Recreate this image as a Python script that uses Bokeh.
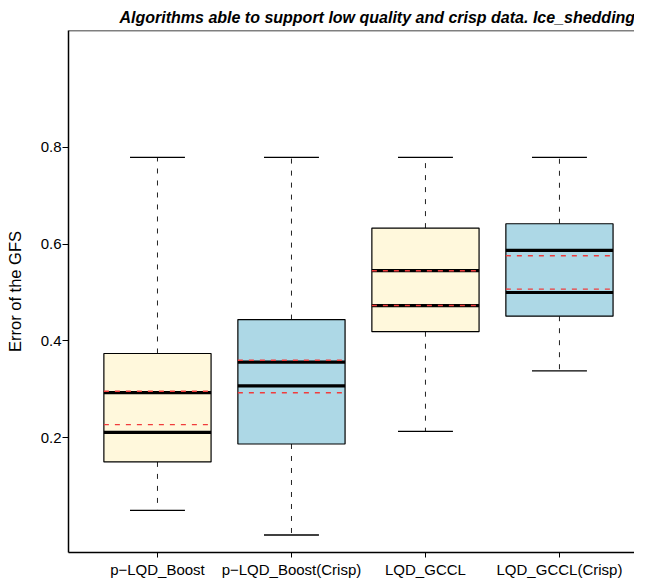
from bokeh.plotting import figure
from bokeh.models import Range1d, FixedTicker, Span, ColumnDataSource
from bokeh.embed import file_html
from bokeh.resources import INLINE

categories = ["p\u2212LQD_Boost", "p\u2212LQD_Boost(Crisp)", "LQD_GCCL", "LQD_GCCL(Crisp)"]
fill_colors = ["#FFF8DC", "#ADD8E6", "#FFF8DC", "#ADD8E6"]
q1 = [0.150, 0.187, 0.419, 0.451]
q3 = [0.374, 0.444, 0.633, 0.642]
whisker_low = [0.050, -0.001, 0.213, 0.338]
whisker_high = [0.779, 0.779, 0.779, 0.779]
black_upper = [0.293, 0.356, 0.545, 0.587]
black_lower = [0.211, 0.307, 0.473, 0.500]
red_upper = [0.296, 0.360, 0.545, 0.576]
red_lower = [0.227, 0.293, 0.473, 0.507]
y_ticks = [0.2, 0.4, 0.6, 0.8]

pos = list(range(1, len(categories) + 1))
bw = 0.8
cw = 0.41

src = ColumnDataSource(dict(
    x=pos, left=[p - bw / 2 for p in pos], right=[p + bw / 2 for p in pos],
    cl=[p - cw / 2 for p in pos], cr=[p + cw / 2 for p in pos],
    q1=q1, q3=q3, lo=whisker_low, hi=whisker_high, fill=fill_colors,
    bu=black_upper, bl=black_lower, ru=red_upper, rl=red_lower,
))

y0, y1 = -0.0372, 1.0413
p = figure(width=634, height=580, output_backend="svg", toolbar_location=None,
           x_range=Range1d(0.336, 4.560), y_range=Range1d(y0, y1),
           min_border_left=68, min_border_right=0, min_border_top=30, min_border_bottom=27)
p.outline_line_color = None
p.grid.visible = False
p.background_fill_color = "white"

p.title.text = "Algorithms able to support low quality and crisp data. Ice_shedding"
p.title.text_font = "Liberation Sans"
p.title.text_font_style = "bold italic"
p.title.text_font_size = "16px"
p.title.text_color = "black"
p.title.align = "left"
p.title.offset = 51

# whiskers
p.segment(x0="x", x1="x", y0="q3", y1="hi", source=src, line_color="#222222",
          line_width=1, line_dash="5 7")
p.segment(x0="x", x1="x", y0="q1", y1="lo", source=src, line_color="#222222",
          line_width=1, line_dash="5 7")
p.segment(x0="cl", x1="cr", y0="hi", y1="hi", source=src, line_color="black", line_width=1.3)
p.segment(x0="cl", x1="cr", y0="lo", y1="lo", source=src, line_color="black", line_width=1.3)
# boxes
p.quad(left="left", right="right", bottom="q1", top="q3", source=src,
       fill_color="fill", line_color="black", line_width=1.2)
# lines
p.segment(x0="left", x1="right", y0="bu", y1="bu", source=src, line_color="black", line_width=3.2)
p.segment(x0="left", x1="right", y0="bl", y1="bl", source=src, line_color="black", line_width=3.2)
p.segment(x0="left", x1="right", y0="ru", y1="ru", source=src, line_color="#F03C3C",
          line_width=1.4, line_dash="5 6")
p.segment(x0="left", x1="right", y0="rl", y1="rl", source=src, line_color="#F03C3C",
          line_width=1.4, line_dash="5 6")

p.add_layout(Span(location=y1, dimension="width", line_color="black", line_width=1.5))

for ax in (p.xaxis, p.yaxis):
    ax.axis_line_color = "black"
    ax.axis_line_width = 1.5
    ax.major_tick_line_color = "black"
    ax.major_tick_in = 0
    ax.minor_tick_line_color = None
    ax.major_label_text_font = "Liberation Sans"
    ax.major_label_text_font_size = "15px"
    ax.major_label_text_color = "black"

p.xaxis.major_tick_out = 5
p.yaxis.major_tick_out = 6
p.xaxis.ticker = FixedTicker(ticks=pos)
p.xaxis.major_label_overrides = {pp: c for pp, c in zip(pos, categories)}
p.xaxis.major_label_standoff = 3
p.yaxis.ticker = FixedTicker(ticks=y_ticks)
p.yaxis.major_label_standoff = 1
p.yaxis.axis_label = "Error of the GFS"
p.yaxis.axis_label_text_font = "Liberation Sans"
p.yaxis.axis_label_text_font_size = "16.5px"
p.yaxis.axis_label_text_font_style = "normal"
p.yaxis.axis_label_text_color = "black"
p.yaxis.axis_label_standoff = 14

open("out.html", "w").write(file_html(p, INLINE))
